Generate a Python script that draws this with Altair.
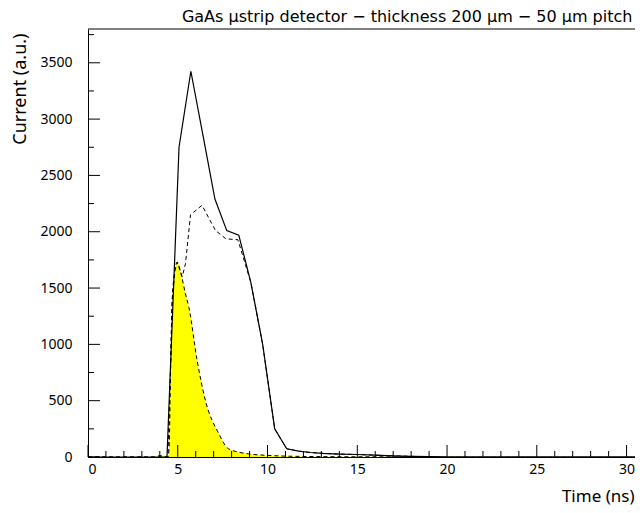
import altair as alt
import pandas as pd

# ---- data ----
t_solid = [0, 4.4, 5.07, 5.73, 6.4, 7.07, 7.73, 8.4, 9.07, 9.73, 10.4, 11.07, 11.73, 12.4, 13.07, 14.0, 15.0, 16.0, 17.0, 18.0, 19.0, 20.0, 30.47]
i_solid = [0, 0, 2750, 3425, 2860, 2290, 2010, 1970, 1550, 1000, 250, 73, 52, 40, 32, 26, 22, 16, 10, 6, 3, 0, 0]

t_dash = [0, 4.45, 4.6, 4.69, 4.84, 4.97, 5.16, 5.25, 5.43, 5.71, 6.35, 7.1, 7.68, 8.35, 9.07, 9.73, 10.4, 11.07, 11.73, 12.4, 13.07, 14.0, 15.0, 16.0, 17.0, 18.0, 19.0, 20.0, 30.47]
i_dash = [0, 0, 797, 1390, 1656, 1730, 1641, 1600, 1716, 2150, 2235, 2011, 1937, 1929, 1550, 1000, 250, 73, 52, 40, 32, 26, 22, 16, 10, 6, 3, 0, 0]

t_yel = [0, 3.7, 4.0, 4.3, 4.45, 4.52, 4.6, 4.69, 4.84, 4.97, 5.16, 5.43, 5.62, 6.08, 6.54, 7.28, 7.83, 8.94, 10.2, 12.0, 15.0, 30.47]
i_yel = [0, 0, 12, 5, 0, 87, 797, 1390, 1656, 1730, 1641, 1449, 1330, 857, 502, 209, 73, 28, 13, 5, 2, 0]

x_major = [0, 5, 10, 15, 20, 25, 30]
x_minor = [v for v in range(1, 31) if v % 5]
y_major = [0, 500, 1000, 1500, 2000, 2500, 3000, 3500]
y_minor = [250, 750, 1250, 1750, 2250, 2750, 3250, 3750]

TITLE = "GaAs \u03bcstrip detector \u2212 thickness 200 \u03bcm \u2212 50 \u03bcm pitch"

W, H = 547, 428
XMAX, YMAX = 30.47, 3800
FONT = "Noto Sans"

xs = alt.Scale(domain=[0, XMAX], nice=False, zero=False)
ys = alt.Scale(domain=[0, YMAX], nice=False)

solid_df = pd.DataFrame({"t": t_solid, "i": i_solid})
dash_df = pd.DataFrame({"t": t_dash, "i": i_dash})
yel_df = pd.DataFrame({"t": t_yel, "i": i_yel})

x_axis = alt.Axis(values=x_major, format="d", ticks=False, tickSize=0, domain=True,
                  domainColor="black", domainWidth=1, grid=False,
                  labelFont=FONT, labelFontSize=14, labelColor="black", labelPadding=5,
                  title="Time (ns)", titleFont=FONT, titleFontSize=17, titleFontWeight="normal",
                  titleColor="black", titleAnchor="end", titleX=W - 1, titleY=31)
y_axis = alt.Axis(values=y_major, format="d", ticks=False, tickSize=0, domain=True,
                  domainColor="black", domainWidth=1, grid=False,
                  labelFont=FONT, labelFontSize=14, labelColor="black", labelPadding=16,
                  title="Current (a.u.)", titleFont=FONT, titleFontSize=18, titleFontWeight="normal",
                  titleColor="black", titleAnchor="end", titleX=-59, titleY=4)

X = lambda f: alt.X(f, scale=xs, axis=x_axis)
Y = lambda f: alt.Y(f, scale=ys, axis=y_axis)

area = alt.Chart(yel_df).mark_area(color="#ffff00", interpolate="monotone").encode(
    x=X("t:Q"), y=Y("i:Q"))
yel_line = alt.Chart(yel_df).mark_line(color="black", strokeWidth=1, strokeDash=[4, 3],
                                        interpolate="monotone").encode(x=X("t:Q"), y=Y("i:Q"))
dash_line = alt.Chart(dash_df).mark_line(color="black", strokeWidth=1, strokeDash=[4, 3]).encode(
    x=X("t:Q"), y=Y("i:Q"))
solid_line = alt.Chart(solid_df).mark_line(color="black", strokeWidth=1.2).encode(
    x=X("t:Q"), y=Y("i:Q"))

def xticks(vals, length):
    return alt.Chart(pd.DataFrame({"t": vals})).mark_rule(color="black", strokeWidth=1).encode(
        x=X("t:Q"), y=alt.value(H), y2=alt.value(H - length))

def yticks(vals, length):
    return alt.Chart(pd.DataFrame({"i": vals})).mark_rule(color="black", strokeWidth=1).encode(
        y=Y("i:Q"), x=alt.value(0), x2=alt.value(length))

top_frame = alt.Chart(pd.DataFrame({"a": [0]})).mark_rule(color="black", strokeWidth=1).encode(
    x=alt.value(0), x2=alt.value(W), y=alt.value(0))

chart = alt.layer(
    area, yel_line, dash_line, solid_line,
    xticks(x_major, 12), xticks(x_minor, 6), yticks(y_major, 12), yticks(y_minor, 6),
    top_frame,
).properties(
    width=W, height=H,
    title=alt.TitleParams(TITLE, anchor="end", font="DejaVu Sans", fontSize=16, fontWeight="normal",
                          color="black", offset=4, dx=-5),
    autosize=alt.AutoSizeParams(type="none"),
    padding={"left": 80, "top": 21, "right": 0, "bottom": 55},
).configure_view(stroke=None)

chart.save("out.html", embed_options={"renderer": "svg", "actions": False})
